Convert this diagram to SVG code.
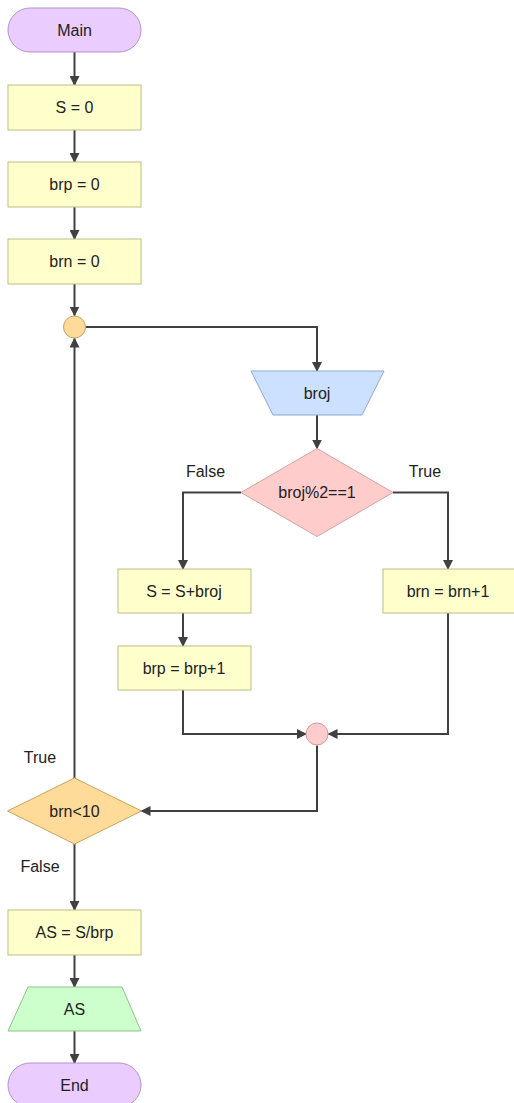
<svg xmlns="http://www.w3.org/2000/svg" width="514" height="1103" viewBox="0 0 514 1103">
<defs>
<marker id="arr" viewBox="0 0 10 10" refX="9" refY="5" markerWidth="10" markerHeight="10" markerUnits="userSpaceOnUse" orient="auto">
<path d="M0,0 L10,5 L0,10 z" fill="#404040"/>
</marker>
<style>
text{font-family:"Liberation Sans",Arial,sans-serif;font-size:16px;fill:#222;text-anchor:middle;dominant-baseline:central}
.term{fill:#eaccff;stroke:#b591d0;stroke-width:1}
.proc{fill:#ffffcc;stroke:#bdbd84;stroke-width:1}
.inp{fill:#cce0ff;stroke:#8ea8d4;stroke-width:1}
.dec{fill:#ffcccc;stroke:#d6a0a0;stroke-width:1}
.loop{fill:#ffdb99;stroke:#c9a262;stroke-width:1}
.out{fill:#ccffcc;stroke:#8cc28c;stroke-width:1}
.join{fill:#ffcccc;stroke:#cf9a9a;stroke-width:1}
.ca{fill:none;stroke:#404040;stroke-width:2;marker-end:url(#arr)}
</style>
</defs>
<g id="connectors">
<path class="ca" d="M74.5,52 V85"/>
<path class="ca" d="M74.5,130 V162"/>
<path class="ca" d="M74.5,207 V239"/>
<path class="ca" d="M74.5,284 V315.5"/>
<path class="ca" d="M85.5,327 H317 V371"/>
<path class="ca" d="M317,415 V448.5"/>
<path class="ca" d="M241,492.5 H183 V569"/>
<path class="ca" d="M393,492.5 H448 V569"/>
<path class="ca" d="M183,613 V646"/>
<path class="ca" d="M183,690 V734 H306"/>
<path class="ca" d="M448,613 V734 H328.5"/>
<path class="ca" d="M317,745.5 V811 H141.5"/>
<path class="ca" d="M74.5,778 V338.5"/>
<path class="ca" d="M74.5,844 V910"/>
<path class="ca" d="M74.5,955 V987"/>
<path class="ca" d="M74.5,1031 V1063"/>
<text x="205.5" y="471">False</text>
<text x="425" y="471">True</text>
<text x="40" y="757">True</text>
<text x="40" y="866">False</text>
</g>
<g id="main"><rect class="term" x="8" y="8" width="133" height="44" rx="22"/><text x="74.5" y="30">Main</text></g>
<g id="s0"><rect class="proc" x="8" y="85" width="133" height="45"/><text x="74.5" y="107.5">S = 0</text></g>
<g id="brp0"><rect class="proc" x="8" y="162" width="133" height="45"/><text x="74.5" y="184.5">brp = 0</text></g>
<g id="brn0"><rect class="proc" x="8" y="239" width="133" height="45"/><text x="74.5" y="261.5">brn = 0</text></g>
<g id="loop"><circle class="loop" cx="74.5" cy="327" r="11"/></g>
<g id="input"><polygon class="inp" points="251,371 384,371 362,415 273,415"/><text x="317" y="393">broj</text></g>
<g id="cond"><polygon class="dec" points="317,448.5 393,492.5 317,536.5 241,492.5"/><text x="317" y="492.5">broj%2==1</text></g>
<g id="sadd"><rect class="proc" x="118" y="569" width="133" height="44"/><text x="184" y="591">S = S+broj</text></g>
<g id="brpinc"><rect class="proc" x="118" y="646" width="133" height="44"/><text x="184" y="668">brp = brp+1</text></g>
<g id="brninc"><rect class="proc" x="383" y="569" width="133" height="44"/><text x="448" y="591">brn = brn+1</text></g>
<g id="merge"><circle class="join" cx="317" cy="734" r="11"/></g>
<g id="loopcond"><polygon class="loop" points="74.5,778 141.5,811 74.5,844 7.5,811"/><text x="74.5" y="811">brn&lt;10</text></g>
<g id="avg"><rect class="proc" x="8" y="910" width="133" height="45"/><text x="74.5" y="932.5">AS = S/brp</text></g>
<g id="output"><polygon class="out" points="28,987 122,987 141,1031 8,1031"/><text x="74.5" y="1009">AS</text></g>
<g id="end"><rect class="term" x="8" y="1063" width="133" height="44" rx="22"/><text x="74.5" y="1085">End</text></g>
</svg>
